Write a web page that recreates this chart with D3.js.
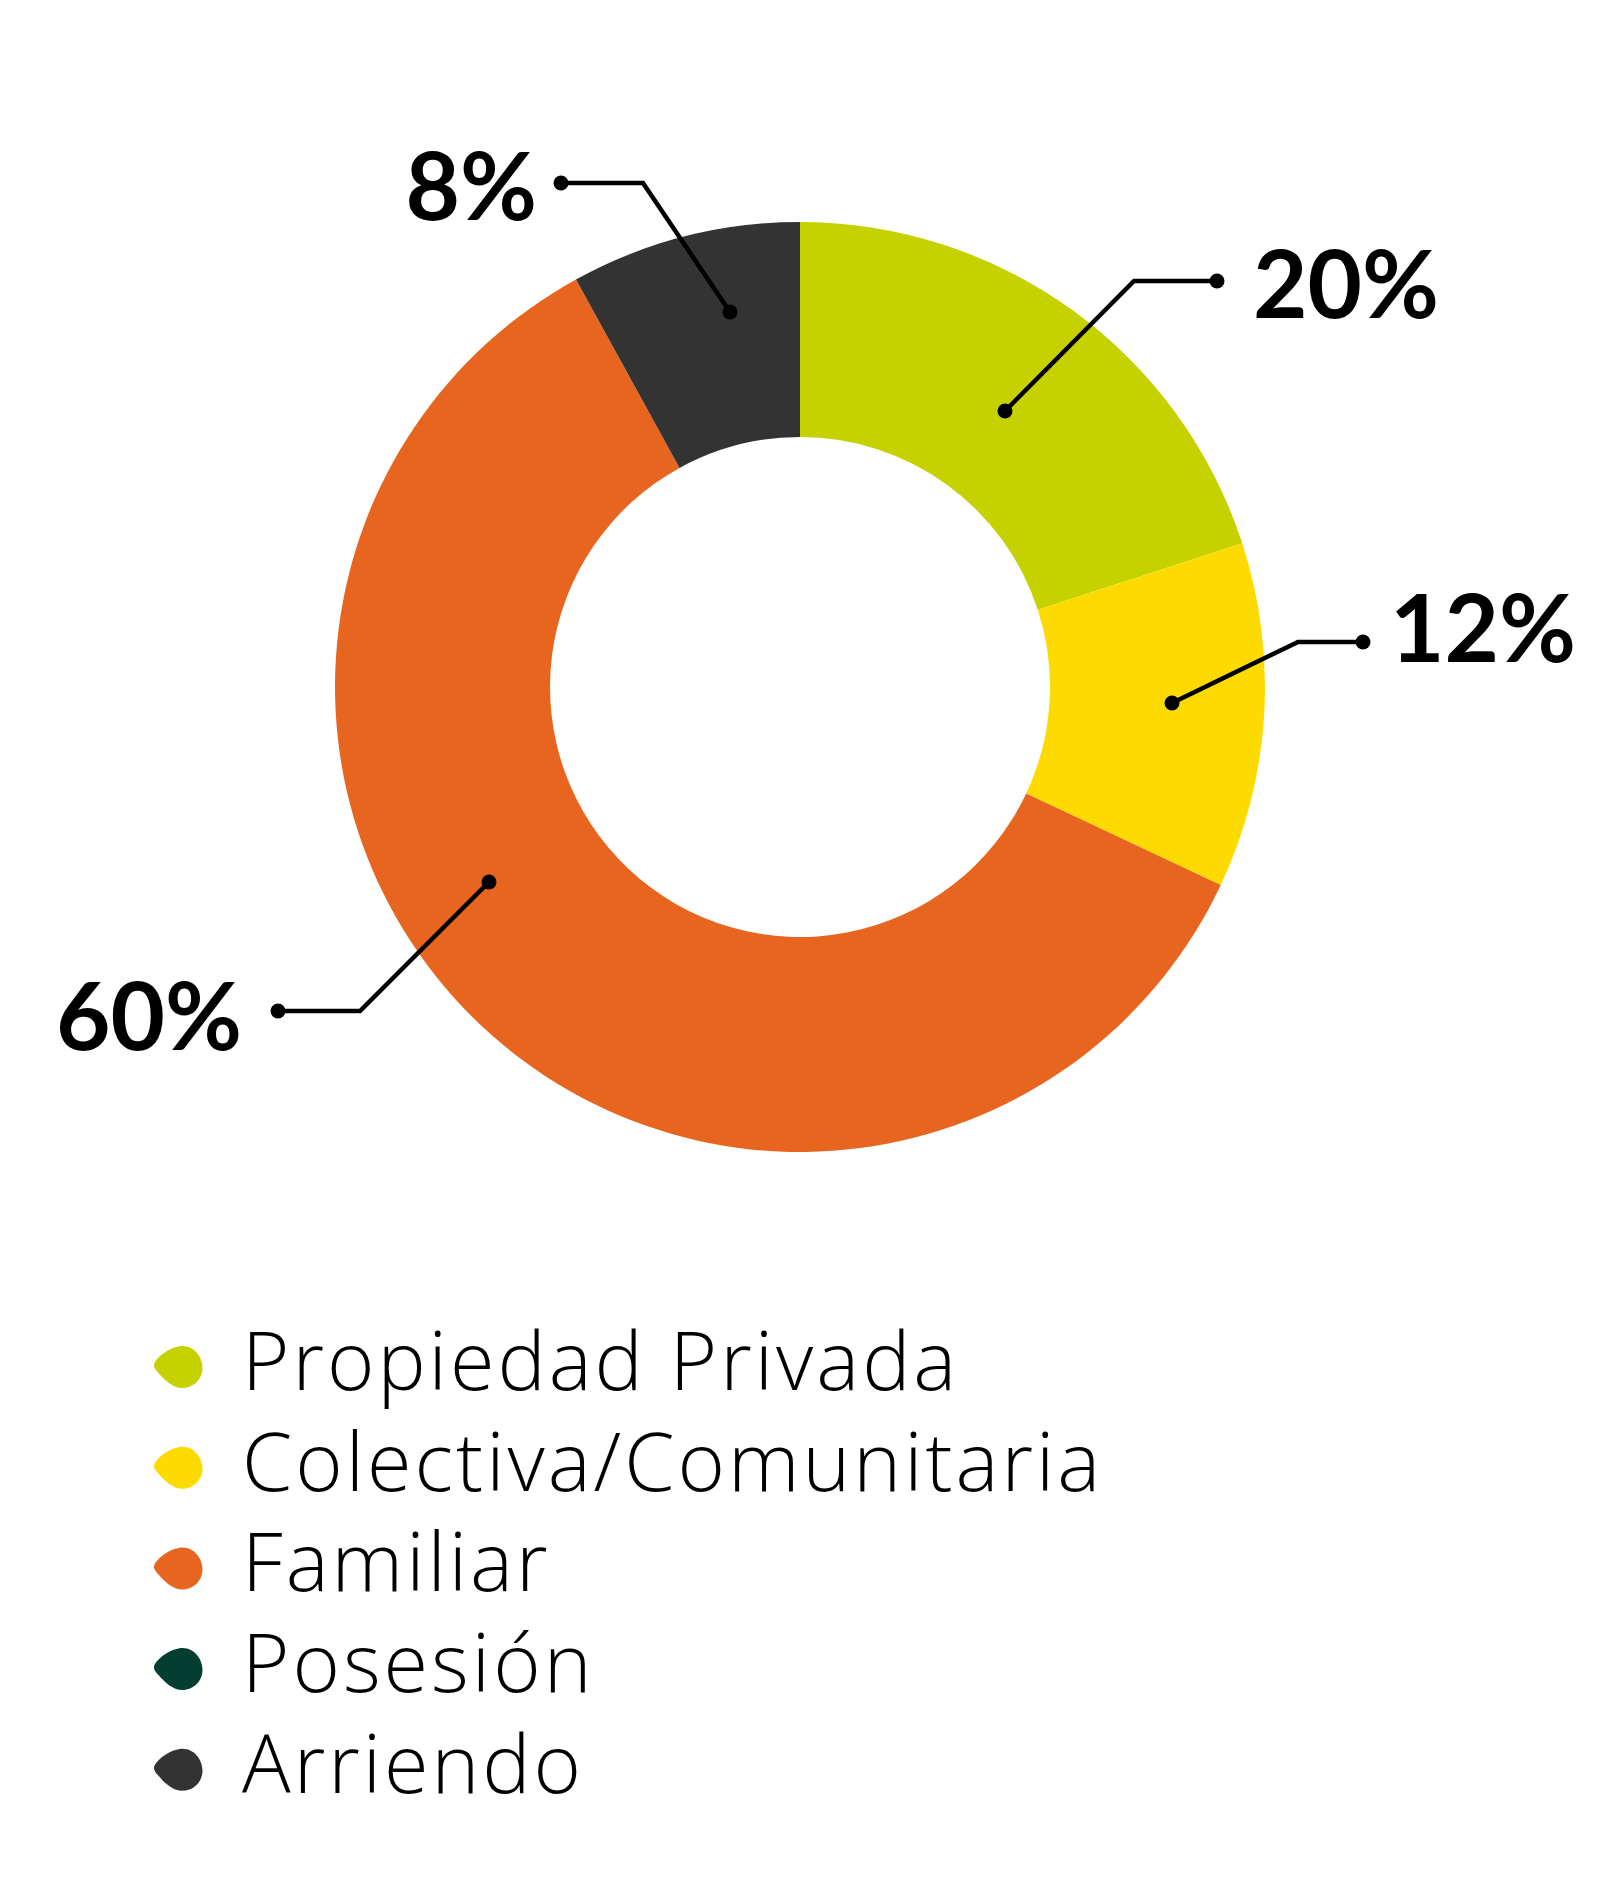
<!DOCTYPE html>
<html>
<head>
<meta charset="utf-8">
<script src="https://cdn.jsdelivr.net/npm/d3@7"></script>
<style>
  html, body { margin: 0; padding: 0; background: #fff; }
</style>
</head>
<body>
<div id="chart"></div>
<script>
const width = 1600;
const height = 1883;

// Data
const categories = ['Propiedad Privada', 'Colectiva/Comunitaria', 'Familiar', 'Posesión', 'Arriendo'];
const values = [20, 12, 60, 0, 8];
const colors = ['#c6d100', '#fddb00', '#e86520', '#033f30', '#333333'];

// Leader lines for the labelled slices (offsets from the donut centre)
const leaders = [
  { idx: 0, dot: [205, -276], elbow: [334, -406], end: [417, -406], anchor: 'start', dx: 36, dy: 37 },
  { idx: 1, dot: [372, 16], elbow: [498, -45], end: [563, -45], anchor: 'start', dx: 27, dy: 20 },
  { idx: 2, dot: [-311, 195], elbow: [-440, 324], end: [-522, 324], anchor: 'end', dx: -36, dy: 39 },
  { idx: 4, dot: [-70, -375], elbow: [-157, -504], end: [-239, -504], anchor: 'end', dx: -24, dy: 37 }
];

const cx = 800, cy = 687;
const outerR = 465, innerR = 250;

const svg = d3.select('#chart')
  .append('svg')
  .attr('width', width)
  .attr('height', height);

// Donut
const pie = d3.pie().sort(null).value(d => d);
const arc = d3.arc().innerRadius(innerR).outerRadius(outerR);

const donut = svg.append('g')
  .attr('transform', `translate(${cx}, ${cy})`);

donut.selectAll('path.slice')
  .data(pie(values))
  .enter()
  .append('path')
  .attr('class', 'slice')
  .attr('d', arc)
  .attr('fill', (d, i) => colors[i]);

// Leaders and labels
leaders.forEach(l => {
  donut.append('path')
    .attr('d', d3.line()([l.dot, l.elbow, l.end]))
    .attr('fill', 'none')
    .attr('stroke', '#000')
    .attr('stroke-width', 4.5)
    .attr('stroke-linejoin', 'miter');
  [l.dot, l.end].forEach(p => {
    donut.append('circle')
      .attr('cx', p[0])
      .attr('cy', p[1])
      .attr('r', 7.5)
      .attr('fill', '#000');
  });
  donut.append('text')
    .attr('x', l.end[0] + l.dx)
    .attr('y', l.end[1] + l.dy)
    .attr('text-anchor', l.anchor)
    .attr('font-family', 'Lato, sans-serif')
    .attr('font-weight', 700)
    .attr('font-size', 94)
    .attr('fill', '#000')
    .text(values[l.idx] + '%');
});

// Legend
const blob = 'M -24,-4 C -20,-12 -6,-21 4,-21 C 16,-21 24,-10 24,1 C 24,12 15,21 4,21 C -6,21 -14,13 -20,6 C -25,1 -25,-2 -24,-4 Z';
const legend = svg.append('g').attr('class', 'legend');
const rows = legend.selectAll('g.row')
  .data(categories)
  .enter()
  .append('g')
  .attr('class', 'row')
  .attr('transform', (d, i) => `translate(0, ${1390 + i * 100.7})`);

rows.append('path')
  .attr('d', blob)
  .attr('transform', 'translate(178.5, -23)')
  .attr('fill', (d, i) => colors[i]);

rows.append('text')
  .attr('x', 242)
  .attr('y', 0)
  .attr('font-family', '"Open Sans", sans-serif')
  .attr('font-weight', 300)
  .attr('font-size', 81)
  .attr('letter-spacing', 3)
  .attr('fill', '#000')
  .text(d => d);
</script>
</body>
</html>
